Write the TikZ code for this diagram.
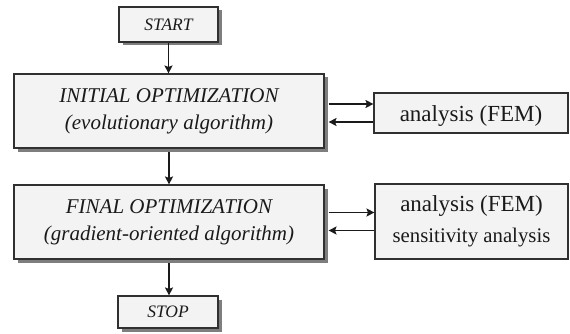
\documentclass[tikz,border=0pt]{standalone}
\usepackage{fontspec}
\setmainfont{Liberation Serif}
\usetikzlibrary{arrows.meta,shadows,calc}
\definecolor{boxfill}{HTML}{F3F3F3}
\definecolor{boxline}{HTML}{303030}
\definecolor{shadowgray}{HTML}{7E7E7E}
\definecolor{inkgray}{HTML}{1A1A1A}
\tikzset{
  flowbox/.style={draw=boxline, line width=1.1pt, fill=boxfill, text=inkgray,
    align=center, inner sep=0pt,
    drop shadow={shadow xshift=3.5pt, shadow yshift=-3.5pt, fill=shadowgray, opacity=1}},
  sidebox/.style={draw=boxline, line width=1.1pt, fill=boxfill, text=inkgray,
    align=center, inner sep=0pt},
  arr/.style={draw=inkgray, line width=1.2pt, -{Stealth[length=8pt,width=8pt,inset=1.5pt]}}
}
\begin{document}
\begin{tikzpicture}[x=1pt,y=-1pt]
\useasboundingbox (0,0) rectangle (570,334);

% main column
\node[flowbox, minimum width=99pt, minimum height=35pt, font=\fontsize{17.5}{20}\selectfont\itshape]
  (start) at (168.5,24.5) {START};
\node[flowbox, minimum width=310pt, minimum height=74pt, font=\fontsize{21}{27}\selectfont\itshape]
  (init) at (169,111) {INITIAL OPTIMIZATION\\(evolutionary algorithm)};
\node[flowbox, minimum width=310pt, minimum height=74pt, font=\fontsize{21}{27}\selectfont\itshape]
  (final) at (169,222) {FINAL OPTIMIZATION\\(gradient-oriented algorithm)};
\node[flowbox, minimum width=100pt, minimum height=32pt, font=\fontsize{17.5}{20}\selectfont\itshape]
  (stop) at (168,312) {STOP};

% analysis boxes
\node[sidebox, minimum width=194pt, minimum height=40pt, text height=19pt, text depth=2pt,
  font=\fontsize{23}{26}\selectfont]
  (fem1) at (471,113) {analysis (FEM)};
\node[sidebox, minimum width=193pt, minimum height=75pt, font=\fontsize{23}{31}\selectfont]
  (fem2) at (471.5,221.5) {analysis (FEM)\\{\fontsize{20.8}{31}\selectfont sensitivity analysis}};

% vertical flow
\draw[arr] (start.south) -- (start.south |- init.north);
\draw[arr] ($(init.south)+(0,3.5)$) -- (init.south |- final.north);
\draw[arr] ($(final.south)+(0,3.5)$) -- (final.south |- stop.north);

% exchange with the analysis modules
\draw[arr] ($(init.east |- fem1.west)+(4,-9)$) -- ($(fem1.west)+(0,-9)$);
\draw[arr] ($(fem1.west)+(0,9)$) -- ($(init.east |- fem1.west)+(4,9)$);
\draw[arr] ($(final.east |- fem2.west)+(4,-9)$) -- ($(fem2.west)+(0,-9)$);
\draw[arr] ($(fem2.west)+(0,9)$) -- ($(final.east |- fem2.west)+(4,9)$);
\end{tikzpicture}
\end{document}
